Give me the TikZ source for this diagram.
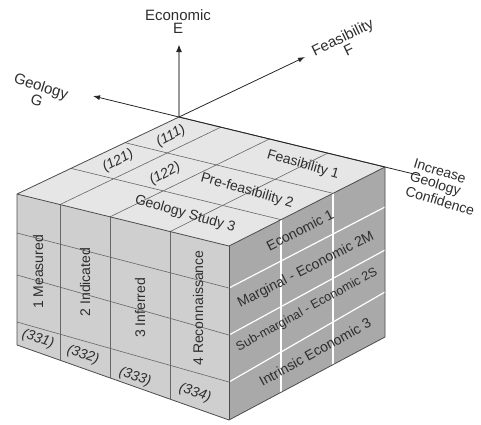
\documentclass[tikz,border=0pt]{standalone}
\usepackage{fontspec}
\setmainfont{Liberation Sans}
\usetikzlibrary{arrows.meta,calc}
\definecolor{topgray}{HTML}{E6E6E6}
\definecolor{leftgray}{HTML}{CFCFCF}
\definecolor{rightgray}{HTML}{A9A9A9}
\definecolor{inkgray}{HTML}{2E2E2E}
\begin{document}
\begin{tikzpicture}[x=1pt,y=-1pt,
  facedraw/.style={draw=black!70,line width=0.8pt,line join=round},
  gline/.style={draw=black!60,line width=0.6pt},
  wline/.style={draw=white,line width=1.2pt},
  txt/.style={text=inkgray,inner sep=0pt,font=\fontsize{14}{13}\selectfont},
  axtxt/.style={text=inkgray,inner sep=0pt,align=center,font=\fontsize{15}{13}\selectfont},
  smalltxt/.style={text=inkgray,inner sep=0pt,font=\fontsize{12.5}{13}\selectfont},
  itxt/.style={text=inkgray,inner sep=0pt,font=\fontsize{14}{13}\selectfont\itshape},
  axisline/.style={draw=black!85,line width=0.8pt,-{Latex[length=7pt,width=5pt]}},
]
\useasboundingbox (0,0) rectangle (481,424);
% corners
\coordinate (O) at (179,117);
\coordinate (L) at (17,194);
\coordinate (F) at (229,246);
\coordinate (R) at (385,167);
\coordinate (LB) at (17,345);
\coordinate (FB) at (229,420);
\coordinate (RB) at (385,337);
% row points
\coordinate (la1) at (17,233);
\coordinate (la2) at (17,275);
\coordinate (la3) at (17,322);
\coordinate (fa1) at (229,288);
\coordinate (fa2) at (229,335);
\coordinate (fa3) at (229,382);
\coordinate (ra1) at (385,207);
\coordinate (ra2) at (385,250);
\coordinate (ra3) at (385,292);
% axis ends
\coordinate (Etip) at (179,44);
\coordinate (Ftip) at (305,57);
\coordinate (Gtip) at (93,96);
\coordinate (Iend) at (420,175.5);

% faces
\fill[topgray] (O) -- (L) -- (F) -- (R) -- cycle;
\fill[leftgray] (L) -- (F) -- (FB) -- (LB) -- cycle;
\fill[rightgray] (F) -- (R) -- (RB) -- (FB) -- cycle;

% top grid
\foreach \u in {0.203,0.439,0.722}
  \draw[gline] ($(L)!\u!(F)$) -- ($(O)!\u!(R)$);
\foreach \w in {0.3333,0.6667}
  \draw[gline] ($(L)!\w!(O)$) -- ($(F)!\w!(R)$);
% left grid
\foreach \u in {0.203,0.439,0.722}
  \draw[gline] ($(L)!\u!(F)$) -- ($(LB)!\u!(FB)$);
\draw[gline] (la1) -- (fa1);
\draw[gline] (la2) -- (fa2);
\draw[gline] (la3) -- (fa3);
% right grid
\foreach \w in {0.3333,0.6667}
  \draw[wline] ($(F)!\w!(R)$) -- ($(FB)!\w!(RB)$);
\draw[wline] (fa1) -- (ra1);
\draw[wline] (fa2) -- (ra2);
\draw[wline] (fa3) -- (ra3);

% outlines
\draw[facedraw] (O) -- (L) -- (F) -- (R) -- cycle;
\draw[facedraw] (L) -- (LB) -- (FB) -- (RB) -- (R);
\draw[facedraw] (F) -- (FB);

% axes
\draw[draw=black!40,line width=2.6pt,-{Latex[color=black!85,length=8pt,width=6pt]}] (O) -- (Etip);
\draw[axisline] (O) -- (Ftip);
\draw[axisline] (O) -- (Gtip);
\draw[draw=black!85,line width=0.8pt] (O) -- (Iend);

% axis labels
\node[axtxt] (Elab) at (178,22) {Economic\\E};
\node[axtxt,rotate=26] (Flab) at (345.5,43.5) {Feasibility\\F};
\node[axtxt,rotate=-18] (Glab) at (39,93) {Geology\\G};
\node[txt,rotate=-17,anchor=west] (inc1) at (414,163) {Increase};
\node[txt,rotate=-17,anchor=west] (inc2) at (410,177) {Geology};
\node[txt,rotate=-17,anchor=west] (inc3) at (406,190.5) {Confidence};

% top face labels
\node[itxt,rotate=28] (c111) at (171,136) {(111)};
\node[itxt,rotate=28] (c121) at (118,161) {(121)};
\node[itxt,rotate=28] (c122) at (165,174) {(122)};
\node[txt,rotate=-16] (feas) at (303,165) {Feasibility 1};
\node[txt,rotate=-16] (prefeas) at (247,191) {Pre-feasibility 2};
\node[txt,rotate=-16] (geost) at (185,214) {Geology Study 3};

% left face labels
\node[txt,rotate=90] (meas) at (38,272) {1 Measured};
\node[txt,rotate=90] (indi) at (85,282) {2 Indicated};
\node[txt,rotate=90] (infe) at (140,308) {3 Inferred};
\node[txt,rotate=90] (reco) at (198,308) {4 Reconnaissance};
\node[itxt,rotate=-18] (c331) at (38,339) {(331)};
\node[itxt,rotate=-18] (c332) at (83,355) {(332)};
\node[itxt,rotate=-18] (c333) at (135,377) {(333)};
\node[itxt,rotate=-18] (c334) at (195,393) {(334)};

% right face labels
\node[txt,rotate=27] (eco1) at (300,230) {Economic 1};
\node[txt,rotate=27] (marg) at (306,270) {Marginal - Economic 2M};
\node[smalltxt,rotate=29] (subm) at (307,310) {Sub-marginal - Economic 2S};
\node[txt,rotate=29] (intr) at (315,352) {Intrinsic Economic 3};
\end{tikzpicture}
\end{document}
